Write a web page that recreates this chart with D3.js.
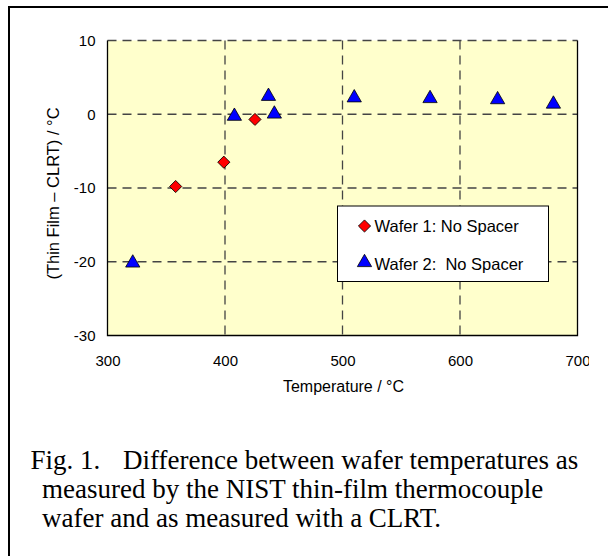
<!DOCTYPE html>
<html>
	<head>
		<meta charset="utf-8">
		<title>Thin film vs CLRT</title>
		<style>
			body {
				margin: 0;
				background: #fff;
			}
			.tick text, .axis-title, .legend text {
				font-family: "Liberation Sans", Arial, sans-serif;
				fill: #000;
			}
			.caption {
				font-family: "Liberation Serif", "Times New Roman", serif;
				font-size: 27px;
				fill: #000;
			}
		</style>
	</head>
	<body>
		<script src="https://cdn.jsdelivr.net/npm/d3@7"></script>
		<script>
			// wafer 1 (diamonds)
			var wafer1Temp = [358, 399, 425.5];
			var wafer1Diff = [-9.8, -6.5, -0.7];
			// wafer 2 (triangles)
			var wafer2Temp = [321.5, 408, 437, 442, 510, 574.5, 632, 679.5];
			var wafer2Diff = [-20.3, -0.4, 2.3, -0.1, 2.1, 2.0, 1.85, 1.25];

			var xTicks = [300, 400, 500, 600, 700];
			var yTicks = [-30, -20, -10, 0, 10];
			var seriesNames = ["Wafer 1: No Spacer", "Wafer 2:\u00a0 No Spacer"];
			var captionLines = [
				"measured by the NIST thin-film thermocouple",
				"wafer and as measured with a CLRT."
			];

			var width = 608;
			var height = 556;
			var plot = {left: 107.5, top: 40.5, right: 577.5, bottom: 335.5};

			var svg = d3.select('body').append('svg')
						.attr('width', width)
						.attr('height', height);

			// outer frame, runs off the right and bottom edges
			svg.append('rect')
				.attr('x', 9).attr('y', 7)
				.attr('width', 620).attr('height', 570)
				.attr('fill', 'none')
				.attr('stroke', '#000')
				.attr('stroke-width', 2);

			var x = d3.scaleLinear().domain([300, 700]).range([plot.left, plot.right]);
			var y = d3.scaleLinear().domain([-30, 10]).range([plot.bottom, plot.top]);

			svg.append('rect')
				.attr('x', plot.left).attr('y', plot.top)
				.attr('width', plot.right - plot.left)
				.attr('height', plot.bottom - plot.top)
				.attr('fill', '#ffffcc');

			// dashed grid
			svg.append('g').selectAll('line').data(xTicks.slice(1, -1)).enter().append('line')
				.attr('x1', function(d) { return x(d); })
				.attr('x2', function(d) { return x(d); })
				.attr('y1', plot.top).attr('y2', plot.bottom)
				.attr('stroke', '#444')
				.attr('stroke-width', 1.3)
				.attr('stroke-dasharray', '9,6');
			svg.append('g').selectAll('line').data(yTicks.slice(1)).enter().append('line')
				.attr('y1', function(d) { return y(d); })
				.attr('y2', function(d) { return y(d); })
				.attr('x1', plot.left).attr('x2', plot.right)
				.attr('stroke', '#444')
				.attr('stroke-width', 1.3)
				.attr('stroke-dasharray', '9,6');

			// axes lines
			svg.append('path')
				.attr('d', 'M' + plot.left + ',' + plot.top + 'V' + plot.bottom + 'H' + plot.right + 'V' + plot.top)
				.attr('fill', 'none')
				.attr('stroke', '#000')
				.attr('stroke-width', 1.3);

			// clip so the last x label gets cut like the original
			svg.append('clipPath').attr('id', 'lblclip')
				.append('rect').attr('x', 0).attr('y', 0).attr('width', 589).attr('height', height);

			var fmt = function(d) { return String(d); };

			var xAxis = svg.append('g')
				.attr('transform', 'translate(0,' + plot.bottom + ')')
				.attr('clip-path', 'url(#lblclip)')
				.call(d3.axisBottom(x).tickValues(xTicks).tickSize(0).tickPadding(20).tickFormat(fmt));
			xAxis.select('.domain').remove();
			xAxis.selectAll('text').attr('font-size', 15).attr('dy', '0.71em');

			var yAxis = svg.append('g')
				.attr('transform', 'translate(' + plot.left + ',0)')
				.call(d3.axisLeft(y).tickValues(yTicks).tickSize(0).tickPadding(12).tickFormat(fmt));
			yAxis.select('.domain').remove();
			yAxis.selectAll('text').attr('font-size', 15);

			svg.append('text')
				.attr('class', 'axis-title')
				.attr('x', 343.5).attr('y', 392)
				.attr('text-anchor', 'middle')
				.attr('font-size', 16)
				.text('Temperature / \u00b0C');

			svg.append('text')
				.attr('class', 'axis-title')
				.attr('transform', 'translate(59,' + 193.5 + ') rotate(-90)')
				.attr('text-anchor', 'middle')
				.attr('font-size', 16.5)
				.text('(Thin Film \u2013 CLRT) / \u00b0C');

			var diamond = d3.symbol().type(d3.symbolSquare).size(74);
			var triangle = d3.symbol().type(d3.symbolTriangle).size(88);

			svg.append('g').selectAll('path').data(wafer1Temp).enter().append('path')
				.attr('d', diamond)
				.attr('transform', function(d, i) { return 'translate(' + x(d) + ',' + y(wafer1Diff[i]) + ') rotate(45)'; })
				.attr('fill', '#ff0000')
				.attr('stroke', '#000')
				.attr('stroke-width', 0.8);

			svg.append('g').selectAll('path').data(wafer2Temp).enter().append('path')
				.attr('d', triangle)
				.attr('transform', function(d, i) { return 'translate(' + x(d) + ',' + (y(wafer2Diff[i]) - 1) + ')'; })
				.attr('fill', '#0000ff')
				.attr('stroke', '#000')
				.attr('stroke-width', 0.8);

			// legend
			var legend = svg.append('g').attr('class', 'legend');
			legend.append('rect')
				.attr('x', 337.5).attr('y', 206)
				.attr('width', 211).attr('height', 75.5)
				.attr('fill', '#fff')
				.attr('stroke', '#000')
				.attr('stroke-width', 1);
			var rows = legend.selectAll('g.row').data(seriesNames).enter().append('g')
				.attr('class', 'row')
				.attr('transform', function(d, i) { return 'translate(364.5,' + (226 + i * 37.5) + ')'; });
			rows.append('path')
				.attr('d', function(d, i) { return i === 0 ? diamond() : triangle(); })
				.attr('transform', function(d, i) { return i === 0 ? 'rotate(45)' : 'translate(0,-1)'; })
				.attr('fill', function(d, i) { return i === 0 ? '#ff0000' : '#0000ff'; })
				.attr('stroke', '#000')
				.attr('stroke-width', 0.8);
			rows.append('text')
				.attr('x', 10).attr('y', 6)
				.attr('font-size', 16.5)
				.text(function(d) { return d; });

			// caption
			var caption = svg.append('text').attr('class', 'caption');
			caption.append('tspan').attr('x', 30.5).attr('y', 469).text('Fig. 1.');
			caption.append('tspan').attr('x', 123).attr('y', 469).text('Difference between wafer temperatures as');
			svg.selectAll('text.cap').data(captionLines).enter().append('text')
				.attr('class', 'caption cap')
				.attr('x', 42)
				.attr('y', function(d, i) { return 498 + i * 29; })
				.text(function(d) { return d; });
		</script>
	</body>
</html>
